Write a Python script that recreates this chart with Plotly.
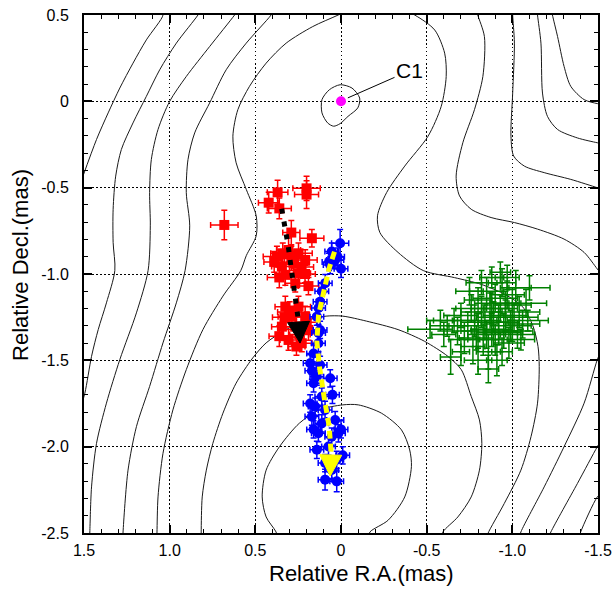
import numpy as np
import plotly.graph_objects as go

# ---------------- contour lines (data units) ----------------
CL1_X = [1.05, 1.039, 1.136, 1.214, 1.291, 1.359, 1.427, 1.51]
CL1_Y = [0.52, 0.50, 0.356, 0.221, 0.077, -0.067, -0.221, -0.444]

CL2_X = [0.825, 0.835, 0.961, 1.058, 1.136, 1.214, 1.282, 1.315, 1.330, 1.330, 1.320, 1.369, 1.417, 1.456, 1.495, 1.524]
CL2_Y = [0.52, 0.50, 0.337, 0.183, 0.029, -0.125, -0.279, -0.433, -0.625, -0.817, -0.98, -1.167, -1.322, -1.477, -1.690, -1.787]

CL3_X = [0.60, 0.621, 0.767, 0.903, 1.0, 1.068, 1.107, 1.117, 1.113, 1.126, 1.194, 1.291, 1.369, 1.427, 1.456, 1.466, 1.467]
CL3_Y = [0.53, 0.50, 0.317, 0.144, 0.0, -0.163, -0.337, -0.529, -0.721, -0.98, -1.225, -1.496, -1.748, -1.981, -2.233, -2.494, -2.53]

CL4_X = [0.39, 0.408, 0.553, 0.670, 0.767, 0.854, 0.893, 0.903, 0.883, 0.91, 0.961, 1.039, 1.117, 1.194, 1.243, 1.272, 1.273]
CL4_Y = [0.53, 0.50, 0.337, 0.183, -0.010, -0.183, -0.337, -0.529, -0.721, -0.98, -1.167, -1.399, -1.651, -1.884, -2.136, -2.494, -2.53]

CL5_X = [1.075, 1.074, 1.068, 1.039, 0.981, 0.903, 0.806, 0.689, 0.585, 0.553, 0.495, 0.495, 0.553, 0.612,
         0.631, 0.602, 0.534, 0.437, 0.320, 0.165, 0.016, -0.2, -0.43, -0.547, -0.605, -0.614, -0.585,
         -0.508, -0.372, -0.266, -0.213, -0.227, -0.333, -0.48, -0.663, -0.818, -0.96, -1.06, -1.12,
         -1.15, -1.157, -1.147, -1.109, -1.050, -0.953, -0.857, -0.85]
CL5_Y = [-2.53, -2.494, -2.291, -2.039, -1.787, -1.554, -1.322, -1.128, -0.98, -0.894, -0.779, -0.663, -0.510, -0.356,
         -0.202, -0.048, 0.087, 0.221, 0.337, 0.433, 0.50, 0.60, 0.50, 0.413, 0.279, 0.144, -0.029,
         -0.202, -0.375, -0.529, -0.663, -0.760, -0.875, -0.98, -1.021, -1.06, -1.12, -1.19, -1.30,
         -1.42, -1.535, -1.748, -1.942, -2.136, -2.329, -2.504, -2.53]

CL6_X = [0.816, 0.816, 0.810, 0.786, 0.748, 0.689, 0.612, 0.515, 0.437, 0.336, 0.262, 0.184, 0.087, -0.01,
         -0.149, -0.333, -0.488, -0.624, -0.702, -0.760, -0.808, -0.822, -0.808, -0.760, -0.682, -0.595, -0.59]
CL6_Y = [-2.53, -2.494, -2.291, -2.136, -1.981, -1.806, -1.632, -1.486, -1.399, -1.331, -1.293, -1.264, -1.244, -1.244,
         -1.273, -1.322, -1.390, -1.477, -1.554, -1.709, -1.845, -1.981, -2.136, -2.291, -2.407, -2.494, -2.53]

CL7_X = [0.37, 0.379, 0.437, 0.460, 0.437, 0.359, 0.243, 0.126, -0.01, -0.101, -0.236, -0.353, -0.401, -0.411,
         -0.372, -0.275, -0.169, -0.16]
CL7_Y = [-2.53, -2.494, -2.407, -2.291, -2.136, -2.0, -1.864, -1.787, -1.758, -1.758, -1.806, -1.903, -2.019, -2.116,
         -2.291, -2.426, -2.494, -2.53]

C1_LOOP_X = [0.005, -0.064, -0.109, -0.098, -0.041, 0.005, 0.043, 0.078, 0.111, 0.111, 0.068, 0.005]
C1_LOOP_Y = [0.096, 0.077, 0.019, -0.038, -0.087, -0.129, -0.144, -0.125, -0.067, 0.01, 0.067, 0.096]

CR1_X = [-0.79, -0.798, -0.837, -0.828, -0.779, -0.711, -0.672, -0.692, -0.760, -0.876, -1.012, -1.147, -1.302, -1.419, -1.496, -1.52]
CR1_Y = [0.53, 0.50, 0.375, 0.144, -0.048, -0.240, -0.433, -0.548, -0.625, -0.673, -0.702, -0.740, -0.798, -0.875, -0.971, -1.0]

CR2_X = [-1.002, -1.002, -1.012, -1.002, -0.992, -1.008, -1.070, -1.186, -1.341, -1.496, -1.52]
CR2_Y = [0.53, 0.50, 0.337, 0.048, -0.202, -0.317, -0.375, -0.413, -0.452, -0.500, -0.507]

CR3_X = [-1.145, -1.147, -1.167, -1.176, -1.205, -1.264, -1.380, -1.496, -1.52]
CR3_Y = [0.53, 0.50, 0.337, 0.048, -0.087, -0.163, -0.212, -0.240, -0.245]

CR4_X = [-1.228, -1.234, -1.264, -1.302, -1.341, -1.419, -1.496, -1.52]
CR4_Y = [0.53, 0.50, 0.375, 0.202, 0.087, 0.010, -0.013, -0.016]

CB1_X = [-1.52, -1.496, -1.419, -1.302, -1.186, -1.050, -1.04]
CB1_Y = [-1.44, -1.496, -1.748, -2.0, -2.233, -2.494, -2.53]

CB2_X = [-1.52, -1.496, -1.380, -1.225, -1.21]
CB2_Y = [-1.96, -2.0, -2.213, -2.494, -2.53]

CB3_X = [-1.52, -1.496, -1.399, -1.39]
CB3_Y = [-2.27, -2.291, -2.494, -2.53]

CONTOURS = [(CL1_X, CL1_Y), (CL2_X, CL2_Y), (CL3_X, CL3_Y), (CL4_X, CL4_Y), (CL5_X, CL5_Y),
            (CL6_X, CL6_Y), (CL7_X, CL7_Y), (C1_LOOP_X, C1_LOOP_Y), (CR1_X, CR1_Y), (CR2_X, CR2_Y),
            (CR3_X, CR3_Y), (CR4_X, CR4_Y), (CB1_X, CB1_Y), (CB2_X, CB2_Y), (CB3_X, CB3_Y)]

# ---------------- red component ----------------
RED_X = [0.681, 0.370, 0.422, 0.360, 0.201, 0.201, 0.290, 0.170, 0.374, 0.306, 0.248, 0.345, 0.277, 0.209,
         0.325, 0.248, 0.267, 0.190, 0.325, 0.248, 0.287, 0.209, 0.345, 0.267, 0.190, 0.306, 0.229,
         0.340, 0.290, 0.230, 0.300, 0.240, 0.390, 0.360, 0.210, 0.330, 0.360, 0.200, 0.260]
RED_Y = [-0.716, -0.527, -0.587, -0.620, -0.504, -0.540, -0.760, -0.793, -0.899, -0.861, -0.880, -0.957, -0.938, -0.919,
         -1.005, -0.995, -1.054, -1.070, -1.189, -1.189, -1.247, -1.247, -1.305, -1.305, -1.324, -1.382, -1.401,
         -0.880, -0.910, -0.960, -1.220, -1.350, -0.930, -1.020, -1.000, -1.250, -1.360, -1.280, -1.420]
RED_EX = [0.08, 0.06, 0.06, 0.07, 0.08, 0.07, 0.05, 0.07, 0.08, 0.07, 0.08, 0.06, 0.09, 0.07,
          0.06, 0.07, 0.06, 0.06, 0.06, 0.07, 0.08, 0.06, 0.06, 0.07, 0.06, 0.05, 0.06,
          0.07, 0.08, 0.07, 0.07, 0.06, 0.06, 0.07, 0.06, 0.07, 0.06, 0.06, 0.05]
RED_EY = [0.085, 0.07, 0.06, 0.06, 0.07, 0.08, 0.07, 0.05, 0.06, 0.07, 0.06, 0.07, 0.07, 0.06,
          0.06, 0.06, 0.05, 0.05, 0.06, 0.06, 0.06, 0.06, 0.06, 0.06, 0.06, 0.06, 0.05,
          0.06, 0.07, 0.06, 0.06, 0.06, 0.06, 0.06, 0.05, 0.06, 0.06, 0.06, 0.05]

# ---------------- blue component ----------------
BLUE_X = [0.005, 0.054, 0.034, 0.063, 0.092, 0.112, 0.122, 0.131, 0.141, 0.122, 0.131, 0.132, 0.160, 0.180,
          0.122, 0.063, 0.160, 0.141, 0.112, 0.151, 0.093, 0.170, 0.112, 0.034, 0.132, 0.054, 0.141, 0.073,
          0.093, 0.025, 0.093, 0.025, 0.054, 0.015, 0.180, 0.000, -0.010, 0.160, 0.050, 0.170, 0.020,
          0.070, 0.000]
BLUE_Y = [-0.822, -0.870, -0.919, -0.948, -1.053, -1.100, -1.160, -1.197, -1.247, -1.324, -1.342, -1.401, -1.460, -1.517,
          -1.527, -1.604, -1.633, -1.595, -1.710, -1.768, -1.787, -1.826, -1.865, -1.846, -1.922, -1.942, -2.018, -1.999,
          -2.095, -2.076, -2.191, -2.201, -2.135, -1.923, -1.750, -1.900, -2.050, -1.900, -1.700, -1.560, -0.900,
          -0.930, -0.970]
BLUE_EX = [0.05, 0.04, 0.05, 0.04, 0.04, 0.04, 0.04, 0.04, 0.04, 0.04, 0.04, 0.04, 0.04, 0.04,
           0.04, 0.04, 0.04, 0.04, 0.04, 0.04, 0.04, 0.04, 0.04, 0.05, 0.04, 0.04, 0.04, 0.04,
           0.04, 0.04, 0.04, 0.04, 0.04, 0.04, 0.04, 0.04, 0.04, 0.04, 0.04, 0.04, 0.04,
           0.04, 0.04]
BLUE_EY = [0.08, 0.05, 0.05, 0.05, 0.05, 0.05, 0.05, 0.05, 0.05, 0.05, 0.05, 0.05, 0.05, 0.05,
           0.05, 0.05, 0.05, 0.05, 0.05, 0.05, 0.05, 0.05, 0.05, 0.05, 0.05, 0.05, 0.05, 0.05,
           0.05, 0.05, 0.06, 0.06, 0.05, 0.05, 0.05, 0.05, 0.05, 0.05, 0.05, 0.05, 0.05,
           0.05, 0.05]

# ---------------- green component ----------------
GREEN_X = [-0.62, -0.66, -0.68, -0.70, -0.72, -0.64, -0.74, -0.76, -0.77, -0.78, -0.80, -0.80, -0.82, -0.83,
           -0.84, -0.85, -0.86, -0.87, -0.88, -0.89, -0.90, -0.90, -0.91, -0.92, -0.93, -0.94, -0.95, -0.96,
           -0.97, -0.98, -0.99, -1.00, -1.01, -1.02, -1.03, -1.04, -1.06, -1.08, -0.75, -0.82, -0.88, -0.93,
           -0.97, -0.86, -0.80, -0.94, -0.70, -0.58, -0.60, -0.79, -0.85, -0.92, -1.00, -1.05, -0.96, -0.88,
           -0.52, -1.10, -1.09]
GREEN_Y = [-1.30, -1.27, -1.33, -1.24, -1.38, -1.48, -1.30, -1.20, -1.42, -1.27, -1.33, -1.15, -1.22, -1.38,
           -1.28, -1.10, -1.45, -1.20, -1.32, -1.25, -1.14, -1.38, -1.50, -1.28, -1.20, -1.05, -1.33, -1.24,
           -1.12, -1.40, -1.30, -1.18, -1.25, -1.08, -1.35, -1.22, -1.29, -1.17, -1.10, -1.05, -1.02, -0.99,
           -1.02, -1.55, -1.50, -1.45, -1.45, -1.27, -1.35, -1.37, -1.35, -1.34, -1.33, -1.38, -1.17, -1.17,
           -1.32, -1.08, -1.27]
GREEN_EX = [0.10, 0.12, 0.08, 0.10, 0.09, 0.06, 0.11, 0.09, 0.07, 0.13, 0.10, 0.08, 0.12, 0.09,
            0.14, 0.10, 0.07, 0.11, 0.12, 0.10, 0.13, 0.10, 0.06, 0.12, 0.10, 0.08, 0.11, 0.13,
            0.10, 0.09, 0.12, 0.11, 0.14, 0.09, 0.10, 0.12, 0.10, 0.12, 0.08, 0.09, 0.07, 0.06,
            0.07, 0.06, 0.08, 0.06, 0.05, 0.08, 0.07, 0.10, 0.11, 0.13, 0.12, 0.08, 0.09, 0.10,
            0.13, 0.12, 0.12]
GREEN_EY = [0.06, 0.07, 0.08, 0.07, 0.08, 0.10, 0.08, 0.08, 0.10, 0.09, 0.10, 0.07, 0.09, 0.09,
            0.10, 0.08, 0.10, 0.09, 0.10, 0.09, 0.08, 0.09, 0.09, 0.10, 0.08, 0.08, 0.10, 0.09,
            0.08, 0.09, 0.09, 0.09, 0.08, 0.10, 0.08, 0.09, 0.08, 0.08, 0.08, 0.07, 0.06, 0.06,
            0.07, 0.08, 0.08, 0.08, 0.08, 0.06, 0.07, 0.07, 0.08, 0.07, 0.06, 0.06, 0.07, 0.06,
            0.05, 0.07, 0.06]

# ---------------- motion arrows ----------------
BLACK_X = [0.346, 0.330, 0.317, 0.307, 0.297, 0.287, 0.278, 0.264, 0.252, 0.239]
BLACK_Y = [-0.622, -0.699, -0.766, -0.844, -0.921, -0.988, -1.066, -1.143, -1.210, -1.400]
YELLOW_X = [0.038, 0.070, 0.096, 0.131, 0.141, 0.126, 0.096, 0.069, 0.059, 0.063]
YELLOW_Y = [-0.871, -0.970, -1.083, -1.237, -1.391, -1.536, -1.729, -1.883, -2.018, -2.170]

C1_X, C1_Y = [0.0], [0.0]

PX_PER_UNIT = 172.0


def head(xs, ys, length_px, half_w_px):
    tip = np.array([xs[-1], ys[-1]])
    prev = np.array([xs[-2], ys[-2]])
    d = tip - prev
    d = d / np.hypot(*d)
    n = np.array([-d[1], d[0]])
    L = length_px / PX_PER_UNIT
    W = half_w_px / PX_PER_UNIT
    base = tip - L * d
    a = base + W * n
    b = base - W * n
    return base, [a[0], tip[0], b[0], a[0]], [a[1], tip[1], b[1], a[1]]


fig = go.Figure()

for cx, cy in CONTOURS:
    fig.add_trace(go.Scatter(x=cx, y=cy, mode='lines', line=dict(color='#1a1a1a', width=1, shape='spline', smoothing=0.8),
                             hoverinfo='skip', showlegend=False))

fig.add_trace(go.Scatter(
    x=GREEN_X, y=GREEN_Y, mode='markers',
    marker=dict(color='#008000', size=3, symbol='triangle-up'),
    error_x=dict(type='data', array=GREEN_EX, color='#008000', thickness=1.5, width=3),
    error_y=dict(type='data', array=GREEN_EY, color='#008000', thickness=1.5, width=3),
    showlegend=False))

fig.add_trace(go.Scatter(
    x=RED_X, y=RED_Y, mode='markers',
    marker=dict(color='#ff0000', size=10, symbol='square'),
    error_x=dict(type='data', array=RED_EX, color='#ff0000', thickness=1.5, width=3),
    error_y=dict(type='data', array=RED_EY, color='#ff0000', thickness=1.5, width=3),
    showlegend=False))

fig.add_trace(go.Scatter(
    x=BLUE_X, y=BLUE_Y, mode='markers',
    marker=dict(color='#0000ff', size=10, symbol='circle'),
    error_x=dict(type='data', array=BLUE_EX, color='#0000ff', thickness=1.5, width=3),
    error_y=dict(type='data', array=BLUE_EY, color='#0000ff', thickness=1.5, width=3),
    showlegend=False))

for xs, ys, col, dash in [(BLACK_X, BLACK_Y, '#000000', '5px,8px'), (YELLOW_X, YELLOW_Y, '#ffff00', '8px,5px')]:
    base, hx, hy = head(xs, ys, 21, 11)
    fig.add_trace(go.Scatter(x=list(xs[:-1]) + [base[0]], y=list(ys[:-1]) + [base[1]], mode='lines',
                             line=dict(color=col, width=5, dash=dash), showlegend=False, hoverinfo='skip'))
    fig.add_trace(go.Scatter(x=hx, y=hy, mode='lines', fill='toself', fillcolor=col,
                             line=dict(color=col, width=1), showlegend=False, hoverinfo='skip'))

fig.add_trace(go.Scatter(x=C1_X, y=C1_Y, mode='markers', marker=dict(color='#ff00ff', size=10),
                         showlegend=False))

FONT = 'Liberation Sans, Arial, Helvetica, sans-serif'

axis_common = dict(
    showline=True, linecolor='black', linewidth=2, mirror='allticks',
    ticks='inside', ticklen=8, tickwidth=1.5, tickcolor='black',
    showgrid=True, gridcolor='black', griddash='1.5px,2.5px', gridwidth=1,
    zeroline=False, tickmode='array', ticklabeloverflow='allow',
    minor=dict(tickmode='linear', tick0=0, dtick=0.1, ticks='inside', ticklen=4, tickwidth=1,
               tickcolor='black', showgrid=False),
    tickfont=dict(family=FONT, size=16, color='black'),
)

fig.update_xaxes(range=[1.5, -1.5], tickvals=[1.5, 1.0, 0.5, 0, -0.5, -1.0, -1.5],
                 ticktext=['1.5', '1.0', '0.5', '0', '-0.5', '-1.0', '-1.5'], ticklabelstandoff=2, **axis_common)
fig.update_yaxes(range=[-2.5, 0.5], tickvals=[0.5, 0, -0.5, -1.0, -1.5, -2.0, -2.5],
                 ticktext=['0.5', '0', '-0.5', '-1.0', '-1.5', '-2.0', '-2.5'], ticklabelstandoff=10, **axis_common)

fig.add_annotation(x=-0.04, y=0.02, ax=-0.40, ay=0.177, axref='x', ayref='y', xref='x', yref='y',
                   text='C1', showarrow=True, arrowhead=0, arrowwidth=1, arrowcolor='black',
                   font=dict(family=FONT, size=21, color='black'))

fig.add_annotation(x=0.54, y=-0.078, xref='paper', yref='paper', text='Relative R.A.(mas)', showarrow=False,
                   font=dict(family=FONT, size=22, color='black'), xanchor='center', yanchor='middle')
fig.add_annotation(x=-0.125, y=0.517, xref='paper', yref='paper', text='Relative Decl.(mas)', showarrow=False,
                   textangle=-90, font=dict(family=FONT, size=22, color='black'), xanchor='center', yanchor='middle')

fig.update_layout(
    width=613, height=589,
    margin=dict(l=84, r=15, t=15, b=56, autoexpand=False),
    plot_bgcolor='white', paper_bgcolor='white',
    showlegend=False,
)

fig.write_html('out.html')
